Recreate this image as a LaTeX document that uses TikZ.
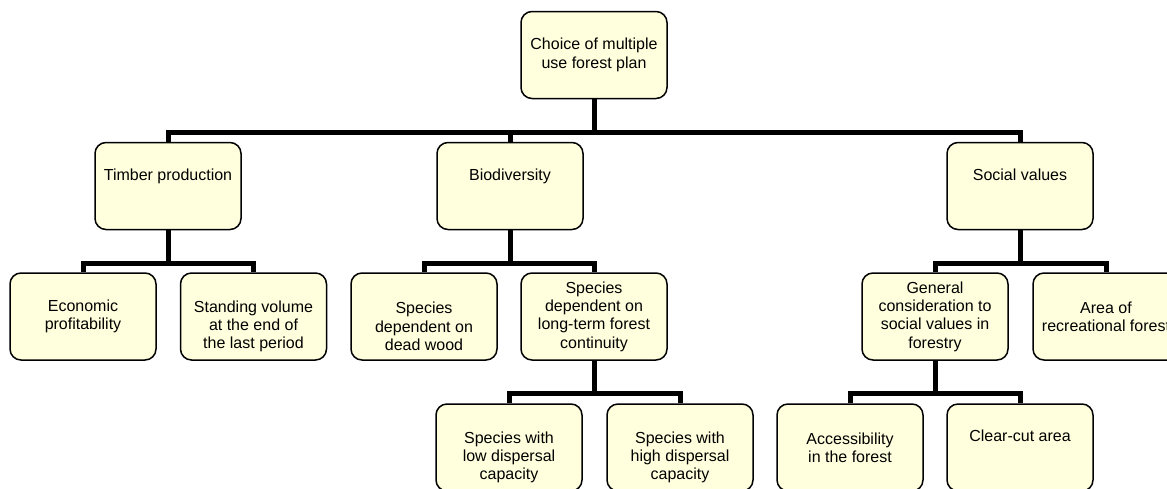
\documentclass[tikz,border=0pt]{standalone}
\usepackage{fontspec}
\setmainfont{Liberation Sans}
\usepackage{tikz}

\definecolor{boxfill}{RGB}{255,255,221}
\tikzset{
  planbox/.style={draw=black, line width=1.5pt, fill=boxfill, rounded corners=11pt,
    minimum width=146pt, minimum height=87pt, inner sep=0pt, align=center,
    font=\fontsize{16}{18.4}\selectfont},
  link/.style={black, line width=5pt}
}

\begin{document}
\begin{tikzpicture}[x=1pt,y=-1pt]

\useasboundingbox (0,0) rectangle (1167,488);
\clip (0,0) rectangle (1167,488);

% top
\node[planbox] (plan) at (594,55) {Choice of multiple\\use forest plan};

% criteria
\node[planbox] (timber) at (168,186) {\strut\\Timber production\\\strut\\\strut};
\node[planbox] (bio) at (510,186) {\strut\\Biodiversity\\\strut\\\strut};
\node[planbox] (social) at (1020,186) {\strut\\Social values\\\strut\\\strut};

% sub criteria
\node[planbox] (profit) at (83,316.5) {Economic\\profitability};
\node[planbox] (volume) at (253.5,316.5) {\strut\\Standing volume\\at the end of\\the last period};
\node[planbox] (deadwood) at (424,316.5) {\strut\\Species\\dependent on\\dead wood};
\node[planbox] (continuity) at (594,316.5) {Species\\dependent on\\long-term forest\\continuity};
\node[planbox] (general) at (935,316.5) {General\\consideration to\\social values in\\forestry};
\node[planbox] (recreation) at (1106,316.5) {Area of\\recreational forest};

% lowest level
\node[planbox] (lowdisp) at (509,447.5) {\strut\\Species with\\low dispersal\\capacity};
\node[planbox] (highdisp) at (680,447.5) {\strut\\Species with\\high dispersal\\capacity};
\node[planbox] (access) at (850,447.5) {Accessibility\\in the forest};
\node[planbox] (clearcut) at (1020,447.5) {\strut\\Clear-cut area\\\strut\\\strut};

% links
\foreach \c in {timber,bio,social}
  \draw[link] (plan.south) -- ++(0,33) -| (\c.north);
\foreach \c in {profit,volume}
  \draw[link] (timber.south) -- ++(0,33) -| (\c.north);
\foreach \c in {deadwood,continuity}
  \draw[link] (bio.south) -- ++(0,33) -| (\c.north);
\foreach \c in {general,recreation}
  \draw[link] (social.south) -- ++(0,33) -| (\c.north);
\foreach \c in {lowdisp,highdisp}
  \draw[link] (continuity.south) -- ++(0,33) -| (\c.north);
\foreach \c in {access,clearcut}
  \draw[link] (general.south) -- ++(0,33) -| (\c.north);

\end{tikzpicture}
\end{document}
